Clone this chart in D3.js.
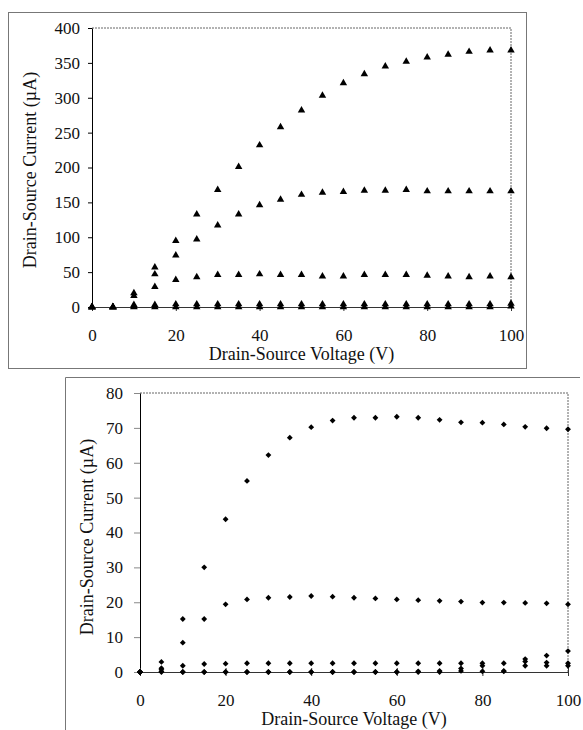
<!DOCTYPE html>
<html>
<head>
<meta charset="utf-8">
<script src="https://cdn.jsdelivr.net/npm/d3@7.9.0/dist/d3.min.js"></script>
<style>
  body { margin: 0; background: #fff; }
</style>
</head>
<body>
<svg id="chart" width="583" height="730"></svg>
<script>
// drain-source voltage steps (V), shared by both panels
const voltage = [0, 5, 10, 15, 20, 25, 30, 35, 40, 45, 50, 55, 60, 65, 70, 75, 80, 85, 90, 95, 100];
const xTicks = [0, 20, 40, 60, 80, 100];

// top panel: drain-source current (uA), triangles
const topA = [0, 0, 20, 57, 95, 133, 168, 201, 232, 258, 282, 303, 321, 334, 345, 352, 358, 362, 366, 368, 368];
const topB = [0, 0, 16, 47, 74, 97, 117, 133, 146, 154, 161, 164, 165, 167, 167, 168, 166, 166, 166, 166, 166];
const topC = [0, 0, 3, 29, 39, 43, 46, 46, 47, 46, 46, 44, 44, 46, 46, 46, 45, 44, 43, 44, 43];
const topD = [0, 0, 1, 3, 4, 4, 4, 4, 4, 4, 4, 4, 4, 4, 4, 4, 4, 4, 4, 4, 5];
const topE = [0, 0, 0, 0, 0, 0, 0, 0, 0, 0, 0, 0, 0, 0, 0, 0, 0, 0, 0, 0, 1];
const topYTicks = [0, 50, 100, 150, 200, 250, 300, 350, 400];

// bottom panel: drain-source current (uA), diamonds
const botA = [0, 2.9, 15.2, 30, 43.8, 54.8, 62.2, 67.2, 70.2, 72.1, 72.9, 72.9, 73.2, 72.9, 72.3, 71.6, 71.5, 71.0, 70.3, 69.9, 69.6];
const botB = [0, 1.1, 8.4, 15.2, 19.4, 20.8, 21.3, 21.5, 21.8, 21.6, 21.3, 21.1, 20.8, 20.6, 20.4, 20.2, 19.9, 19.9, 19.8, 19.7, 19.4];
const botC = [0, 0.8, 1.8, 2.3, 2.4, 2.5, 2.5, 2.5, 2.5, 2.5, 2.5, 2.5, 2.5, 2.5, 2.5, 2.5, 2.5, 2.5, 3.0, 2.7, 2.5];
const botD = [0, 0, 0, 0, 0, 0, 0, 0, 0, 0, 0, 0, 0, 0.2, 0.3, 1.0, 1.8, 0.3, 3.7, 4.7, 6.0];
const botE = [0, 0.2, 0, 0, 0, 0, 0, 0, 0, 0, 0, 0, 0, 0, 0, 0.3, 0.2, 0.2, 1.8, 1.8, 1.8];
const botYTicks = [0, 10, 20, 30, 40, 50, 60, 70, 80];

const xTitle = 'Drain-Source Voltage (V)';
const yTitle = 'Drain-Source Current (\u00b5A)';
const FONT = 'Liberation Serif';

const svg = d3.select('#chart');

function drawPanel(p) {
  const g = svg.append('g');

  // outer frame
  if (p.frame === 'box') {
    g.append('rect')
      .attr('x', p.outer.x0).attr('y', p.outer.y0)
      .attr('width', p.outer.x1 - p.outer.x0).attr('height', p.outer.y1 - p.outer.y0)
      .attr('fill', 'none').attr('stroke', '#777');
  } else {
    g.append('path')
      .attr('d', `M${p.outer.x1},${p.outer.y0}H${p.outer.x0}V${p.outer.y1}`)
      .attr('fill', 'none').attr('stroke', '#777');
  }

  const x = d3.scaleLinear().domain([0, 100]).range([p.left, p.right]);
  const y = d3.scaleLinear().domain([0, d3.max(p.yTicks)]).range([p.bottom, p.top]);

  // dotted top & right edges of plot area
  g.append('path')
    .attr('d', `M${p.left},${p.top}H${p.right}V${p.bottom}`)
    .attr('fill', 'none').attr('stroke', '#666').attr('stroke-dasharray', '2,1');

  // y axis
  const ya = g.append('g')
    .attr('transform', `translate(${p.left},0)`)
    .call(d3.axisLeft(y).tickValues(p.yTicks).tickSize(p.yTickSize).tickSizeOuter(0).tickPadding(p.yPad));
  ya.attr('font-family', FONT);
  ya.select('.domain').attr('stroke', '#000');
  ya.selectAll('.tick line').attr('stroke', p.yTickColor);
  ya.selectAll('text').attr('font-family', FONT).attr('font-size', p.tickFont).attr('fill', '#111');

  // x axis, ticks cross the line
  const xa = g.append('g')
    .attr('transform', `translate(0,${p.bottom})`)
    .call(d3.axisBottom(x).tickValues(xTicks).tickSizeOuter(0));
  xa.attr('font-family', FONT);
  xa.select('.domain').attr('stroke', '#333');
  xa.selectAll('.tick line').attr('y1', -4).attr('y2', 4).attr('stroke', '#333');
  xa.selectAll('text')
    .attr('y', p.xLabelOffset).attr('dy', 0)
    .attr('font-family', FONT).attr('font-size', p.tickFont).attr('fill', '#111');

  // titles
  g.append('text')
    .attr('x', (p.left + p.right) / 2).attr('y', p.xTitleY)
    .attr('text-anchor', 'middle').attr('font-family', FONT)
    .attr('font-size', p.titleFont).attr('fill', '#111')
    .text(xTitle);
  g.append('text')
    .attr('transform', `translate(${p.yTitleX},${p.yTitleY}) rotate(-90)`)
    .attr('text-anchor', 'middle').attr('font-family', FONT)
    .attr('font-size', p.titleFont).attr('fill', '#111')
    .text(yTitle);

  // markers
  const sym = d3.symbol().type(p.symbol).size(p.symbolSize);
  p.series.forEach(vals => {
    g.append('g')
      .selectAll('path')
      .data(vals.map((v, i) => [voltage[i], v]))
      .join('path')
      .attr('d', sym)
      .attr('transform', d => `translate(${x(d[0])},${y(d[1])})${p.rotate ? ' rotate(45)' : ''}`)
      .attr('fill', '#000');
  });
}

drawPanel({
  frame: 'box',
  outer: { x0: 8.5, y0: 12.5, x1: 526.5, y1: 368.5 },
  left: 92, right: 511, top: 28, bottom: 307,
  yTicks: topYTicks, yTickSize: 4, yPad: 8, yTickColor: '#000',
  tickFont: 17, titleFont: 18,
  xLabelOffset: 34, xTitleY: 360,
  yTitleX: 36, yTitleY: 170,
  symbol: d3.symbolTriangle, symbolSize: 24, rotate: false,
  series: [topA, topB, topC, topD, topE]
});

drawPanel({
  frame: 'open',
  outer: { x0: 65.5, y0: 377.5, x1: 580, y1: 730 },
  left: 140, right: 568, top: 393, bottom: 672,
  yTicks: botYTicks, yTickSize: 6, yPad: 11, yTickColor: '#888',
  tickFont: 17, titleFont: 18,
  xLabelOffset: 34, xTitleY: 725,
  yTitleX: 93, yTitleY: 537,
  symbol: d3.symbolSquare, symbolSize: 17, rotate: true,
  series: [botA, botB, botC, botD, botE]
});
</script>
</body>
</html>
